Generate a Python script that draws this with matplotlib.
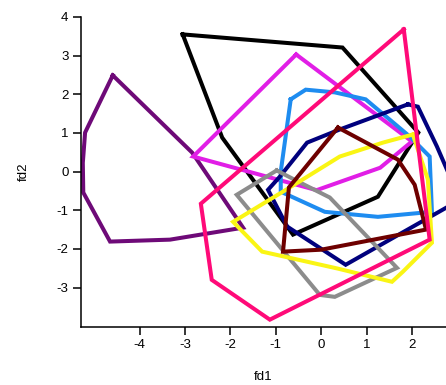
import matplotlib
matplotlib.use("Agg")
import matplotlib.pyplot as plt

plt.rcParams['font.family'] = ['Liberation Sans', 'DejaVu Sans']
plt.rcParams['axes.unicode_minus'] = False

# Group hulls (fd1, fd2) vertices
purple_x = [-4.59, -5.20, -5.25, -5.24, -4.65, -3.33, -1.72, -2.84]
purple_y = [2.49, 1.01, 0.23, -0.54, -1.81, -1.76, -1.45, 0.49]

black_x = [-3.05, 0.47, 2.14, 1.25, -0.62, -2.18]
black_y = [3.55, 3.21, 1.01, -0.65, -1.63, 0.88]

magenta_x = [-0.55, 2.00, 1.30, -0.10, -2.82]
magenta_y = [3.03, 0.78, 0.10, -0.48, 0.39]

blue_x = [-0.67, -0.34, 0.30, 0.98, 1.95, 2.39, 2.44, 1.25, 0.08, -0.89, -0.89]
blue_y = [1.87, 2.12, 2.05, 1.87, 0.91, 0.39, -1.04, -1.17, -1.04, -0.52, 0.00]

navy_x = [1.91, 2.13, 2.55, 3.06, 0.54, -0.75, -1.17, -0.91, -0.31, 0.41]
navy_y = [1.74, 1.68, 0.65, -0.73, -2.41, -1.42, -0.47, -0.13, 0.75, 1.09]

gray_x = [-0.98, -1.86, -0.03, 0.30, 1.67, 0.19, -0.47]
gray_y = [0.03, -0.60, -3.19, -3.24, -2.49, -0.67, -0.28]

yellow_x = [2.02, 1.36, 0.41, -0.69, -1.94, -1.30, 0.37, 1.56, 1.80, 2.44, 2.35]
yellow_y = [0.96, 0.75, 0.39, -0.41, -1.30, -2.07, -2.51, -2.85, -2.59, -1.84, -0.20]

maroon_x = [0.37, 1.69, 2.06, 2.31, 0.00, -0.84, -0.71]
maroon_y = [1.14, 0.31, -0.34, -1.50, -2.02, -2.07, -0.41]

pink_x = [1.82, -2.65, -2.41, -1.13, 2.39]
pink_y = [3.68, -0.83, -2.80, -3.83, -1.76]

groups = [
    (purple_x, purple_y, '#6E0A78'),
    (black_x, black_y, '#000000'),
    (magenta_x, magenta_y, '#E11EE6'),
    (blue_x, blue_y, '#1E8CF0'),
    (navy_x, navy_y, '#00007D'),
    (gray_x, gray_y, '#8C8C8C'),
    (yellow_x, yellow_y, '#FAF514'),
    (maroon_x, maroon_y, '#6E0000'),
    (pink_x, pink_y, '#FF0A78'),
]

xticks = [-4, -3, -2, -1, 0, 1, 2]
yticks = [-3, -2, -1, 0, 1, 2, 3, 4]

fig = plt.figure(figsize=(4.46, 3.85), dpi=100)
ax = fig.add_axes([81/446, 58/385, 365/446, 310/385])
for xs, ys, c in groups:
    ax.plot(xs + xs[:1], ys + ys[:1], color=c, lw=2.9, solid_joinstyle='miter')

ax.set_xlim(-5.29, 2.75)
ax.set_ylim(-4.02, 4.0)
ax.set_xticks(xticks)
ax.set_yticks(yticks)
ax.set_xticklabels([str(t) for t in xticks])
ax.set_yticklabels([str(t) for t in yticks])
ax.spines['top'].set_visible(False)
ax.spines['right'].set_visible(False)
for s in ('left', 'bottom'):
    ax.spines[s].set_linewidth(1.1)
ax.tick_params(direction='out', length=6, width=1.1, labelsize=9.5, pad=3)
ax.set_xlabel('fd1', fontsize=9.5, labelpad=14)
ax.set_ylabel('fd2', fontsize=9.5, labelpad=19)

fig.savefig('out.png', dpi=100)
